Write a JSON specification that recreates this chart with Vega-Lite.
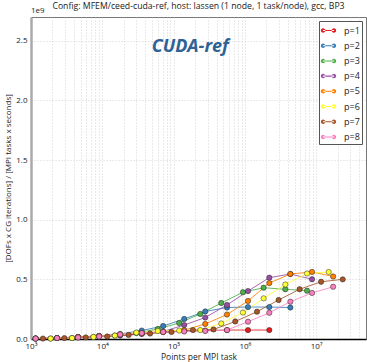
{
  "$schema": "https://vega.github.io/schema/vega-lite/v6.json",
  "width": 335,
  "height": 322,
  "autosize": {"type": "none"},
  "padding": {"left": 31, "top": 17, "right": 1, "bottom": 23},
  "config": {
    "font": "Open Sans",
    "view": {"stroke": "#777", "strokeWidth": 1}
  },
  "title": {
    "text": "Config: MFEM/ceed-cuda-ref, host: lassen (1 node, 1 task/node), gcc, BP3",
    "fontSize": 8.7,
    "fontWeight": "normal",
    "font": "Open Sans",
    "color": "#222",
    "offset": 3,
    "dy": 7,
    "anchor": "middle"
  },
  "resolve": {"legend": {"color": "independent"}},
  "datasets": {
    "perf": [
      {"p": "p=1", "x": 1161, "y": 4e6}, {"p": "p=1", "x": 2318, "y": 8e6}, {"p": "p=1", "x": 4571, "y": 17e6}, {"p": "p=1", "x": 9016, "y": 25e6}, {"p": "p=1", "x": 17783, "y": 34e6}, {"p": "p=1", "x": 35750, "y": 46e6}, {"p": "p=1", "x": 71450, "y": 59e6}, {"p": "p=1", "x": 140900, "y": 67e6}, {"p": "p=1", "x": 277900, "y": 71e6}, {"p": "p=1", "x": 560700, "y": 75e6}, {"p": "p=1", "x": 1106000, "y": 75e6}, {"p": "p=1", "x": 2202000, "y": 75e6},
      {"p": "p=2", "x": 1161, "y": 4e6}, {"p": "p=2", "x": 2318, "y": 8e6}, {"p": "p=2", "x": 4571, "y": 17e6}, {"p": "p=2", "x": 9016, "y": 25e6}, {"p": "p=2", "x": 17783, "y": 42e6}, {"p": "p=2", "x": 35750, "y": 71e6}, {"p": "p=2", "x": 71450, "y": 109e6}, {"p": "p=2", "x": 140900, "y": 168e6}, {"p": "p=2", "x": 277900, "y": 231e6}, {"p": "p=2", "x": 560700, "y": 264e6}, {"p": "p=2", "x": 1106000, "y": 268e6}, {"p": "p=2", "x": 2202000, "y": 268e6}, {"p": "p=2", "x": 4345000, "y": 264e6},
      {"p": "p=3", "x": 1885, "y": 4e6}, {"p": "p=3", "x": 3765, "y": 8e6}, {"p": "p=3", "x": 7520, "y": 17e6}, {"p": "p=3", "x": 15030, "y": 29e6}, {"p": "p=3", "x": 30050, "y": 50e6}, {"p": "p=3", "x": 59970, "y": 84e6}, {"p": "p=3", "x": 119900, "y": 134e6}, {"p": "p=3", "x": 236500, "y": 210e6}, {"p": "p=3", "x": 466400, "y": 302e6}, {"p": "p=3", "x": 940000, "y": 392e6}, {"p": "p=3", "x": 1832000, "y": 430e6}, {"p": "p=3", "x": 3690000, "y": 417e6}, {"p": "p=3", "x": 7450000, "y": 405e6},
      {"p": "p=4", "x": 1161, "y": 4e6}, {"p": "p=4", "x": 2318, "y": 8e6}, {"p": "p=4", "x": 4571, "y": 13e6}, {"p": "p=4", "x": 9016, "y": 21e6}, {"p": "p=4", "x": 17783, "y": 29e6}, {"p": "p=4", "x": 35750, "y": 42e6}, {"p": "p=4", "x": 71450, "y": 63e6}, {"p": "p=4", "x": 140900, "y": 117e6}, {"p": "p=4", "x": 277900, "y": 180e6}, {"p": "p=4", "x": 560700, "y": 285e6}, {"p": "p=4", "x": 1106000, "y": 402e6}, {"p": "p=4", "x": 2202000, "y": 514e6}, {"p": "p=4", "x": 4345000, "y": 545e6}, {"p": "p=4", "x": 8750000, "y": 501e6},
      {"p": "p=5", "x": 1161, "y": 4e6}, {"p": "p=5", "x": 2318, "y": 8e6}, {"p": "p=5", "x": 4571, "y": 17e6}, {"p": "p=5", "x": 9016, "y": 25e6}, {"p": "p=5", "x": 17783, "y": 38e6}, {"p": "p=5", "x": 35750, "y": 50e6}, {"p": "p=5", "x": 71450, "y": 59e6}, {"p": "p=5", "x": 140900, "y": 75e6}, {"p": "p=5", "x": 277900, "y": 126e6}, {"p": "p=5", "x": 560700, "y": 205e6}, {"p": "p=5", "x": 1106000, "y": 319e6}, {"p": "p=5", "x": 2202000, "y": 469e6}, {"p": "p=5", "x": 4345000, "y": 545e6}, {"p": "p=5", "x": 8750000, "y": 562e6}, {"p": "p=5", "x": 17300000, "y": 524e6},
      {"p": "p=6", "x": 1885, "y": 4e6}, {"p": "p=6", "x": 3765, "y": 8e6}, {"p": "p=6", "x": 7520, "y": 17e6}, {"p": "p=6", "x": 15030, "y": 29e6}, {"p": "p=6", "x": 30050, "y": 54e6}, {"p": "p=6", "x": 59970, "y": 67e6}, {"p": "p=6", "x": 119900, "y": 71e6}, {"p": "p=6", "x": 236500, "y": 75e6}, {"p": "p=6", "x": 466400, "y": 130e6}, {"p": "p=6", "x": 940000, "y": 222e6}, {"p": "p=6", "x": 1832000, "y": 341e6}, {"p": "p=6", "x": 3690000, "y": 457e6}, {"p": "p=6", "x": 7450000, "y": 549e6}, {"p": "p=6", "x": 14990000, "y": 562e6},
      {"p": "p=7", "x": 1469, "y": 4e6}, {"p": "p=7", "x": 2937, "y": 8e6}, {"p": "p=7", "x": 5864, "y": 13e6}, {"p": "p=7", "x": 11720, "y": 21e6}, {"p": "p=7", "x": 23400, "y": 34e6}, {"p": "p=7", "x": 46770, "y": 46e6}, {"p": "p=7", "x": 93370, "y": 59e6}, {"p": "p=7", "x": 186600, "y": 75e6}, {"p": "p=7", "x": 363100, "y": 80e6}, {"p": "p=7", "x": 732800, "y": 147e6}, {"p": "p=7", "x": 1479000, "y": 229e6}, {"p": "p=7", "x": 2973000, "y": 327e6}, {"p": "p=7", "x": 5860000, "y": 417e6}, {"p": "p=7", "x": 11720000, "y": 480e6}, {"p": "p=7", "x": 23570000, "y": 500e6},
      {"p": "p=8", "x": 1161, "y": 4e6}, {"p": "p=8", "x": 2318, "y": 8e6}, {"p": "p=8", "x": 4571, "y": 13e6}, {"p": "p=8", "x": 9016, "y": 21e6}, {"p": "p=8", "x": 17783, "y": 38e6}, {"p": "p=8", "x": 35750, "y": 50e6}, {"p": "p=8", "x": 71450, "y": 59e6}, {"p": "p=8", "x": 140900, "y": 63e6}, {"p": "p=8", "x": 277900, "y": 67e6}, {"p": "p=8", "x": 560700, "y": 75e6}, {"p": "p=8", "x": 1106000, "y": 145e6}, {"p": "p=8", "x": 2202000, "y": 220e6}, {"p": "p=8", "x": 4345000, "y": 313e6}, {"p": "p=8", "x": 8750000, "y": 386e6}, {"p": "p=8", "x": 17300000, "y": 438e6}
    ],
    "notes": [
      {"label": "CUDA-ref", "offset": "1e9"}
    ]
  },
  "layer": [
    {
      "data": {"name": "perf"},
      "mark": {"type": "line", "strokeWidth": 1, "opacity": 0.85},
      "encoding": {
        "x": {
          "field": "x",
          "type": "quantitative",
          "scale": {"type": "log", "domain": [1000, 50000000], "nice": false},
          "axis": {
            "title": "Points per MPI task",
            "titleFontSize": 8.5,
            "titleFontWeight": "normal",
            "titleColor": "#222",
            "titlePadding": 2,
            "labelFontSize": 8,
            "labelColor": "#222",
            "labelPadding": 3,
            "labelFlush": false,
            "labelOverlap": false,
            "values": [1000, 2000, 3000, 4000, 5000, 6000, 7000, 8000, 9000, 10000, 20000, 30000, 40000, 50000, 60000, 70000, 80000, 90000, 100000, 200000, 300000, 400000, 500000, 600000, 700000, 800000, 900000, 1000000, 2000000, 3000000, 4000000, 5000000, 6000000, 7000000, 8000000, 9000000, 10000000, 20000000, 30000000, 40000000],
            "labelExpr": "datum.value == 1000 ? '10³' : datum.value == 10000 ? '10⁴' : datum.value == 100000 ? '10⁵' : datum.value == 1000000 ? '10⁶' : datum.value == 10000000 ? '10⁷' : ''",
            "grid": true,
            "gridDash": [1, 2],
            "gridColor": "#c4c4c4",
            "gridWidth": 0.7,
            "ticks": false,
            "domainColor": "#000",
            "domainWidth": 1.5
          }
        },
        "y": {
          "field": "y",
          "type": "quantitative",
          "scale": {"domain": [0, 2700000000], "nice": false},
          "axis": {
            "title": "[DOFs x CG iterations] / [MPI tasks x seconds]",
            "titleFontSize": 8,
            "titleFontWeight": "normal",
            "titleColor": "#222",
            "titlePadding": 3,
            "labelFontSize": 8,
            "labelColor": "#222",
            "labelPadding": 4,
            "values": [0, 500000000, 1000000000, 1500000000, 2000000000, 2500000000],
            "labelExpr": "format(datum.value / 1e9, '.1f')",
            "grid": true,
            "gridDash": [1, 2],
            "gridColor": "#c4c4c4",
            "gridWidth": 0.7,
            "ticks": false,
            "domainColor": "#aaa",
            "domainWidth": 2.5
          }
        },
        "color": {"field": "p", "type": "nominal", "legend": null,
          "scale": {"domain": ["p=1", "p=2", "p=3", "p=4", "p=5", "p=6", "p=7", "p=8"],
                    "range": ["#e41a1c", "#377eb8", "#4daf4a", "#984ea3", "#ff7f00", "#ffff33", "#a65628", "#f781bf"]}}
      }
    },
    {
      "data": {"name": "perf"},
      "mark": {"type": "point", "filled": true, "size": 28, "stroke": "#222", "strokeWidth": 0.5, "opacity": 1},
      "encoding": {
        "x": {"field": "x", "type": "quantitative"},
        "y": {"field": "y", "type": "quantitative"},
        "color": {
          "field": "p",
          "type": "nominal",
          "legend": {
            "title": null,
            "orient": "top-right",
            "offset": 4,
            "padding": 2,
            "strokeColor": "#555",
            "fillColor": "white",
            "cornerRadius": 0,
            "labelFontSize": 9,
            "labelColor": "#222",
            "labelOffset": 8,
            "rowPadding": 2.2,
            "symbolSize": 225,
            "symbolStrokeWidth": 0,
            "symbolOpacity": 1,
            "symbolType": "M-0.75,-0.07H0.75V0.07H-0.75Z M-1.02,0A0.3,0.3,0,1,0,-0.42,0A0.3,0.3,0,1,0,-1.02,0Z M0.42,0A0.3,0.3,0,1,0,1.02,0A0.3,0.3,0,1,0,0.42,0Z"
          }
        }
      }
    },
    {
      "data": {"name": "notes"},
      "mark": {"type": "text", "font": "Open Sans", "fontSize": 18, "fontWeight": "bold", "fontStyle": "italic", "fill": "#2e6194", "align": "center", "baseline": "middle"},
      "encoding": {
        "x": {"datum": 171000, "type": "quantitative"},
        "y": {"datum": 2450000000, "type": "quantitative"},
        "text": {"field": "label"}
      }
    },
    {
      "data": {"name": "notes"},
      "mark": {"type": "text", "font": "Open Sans", "fontSize": 8, "fill": "#222", "align": "left", "baseline": "bottom", "dy": -2},
      "encoding": {
        "x": {"datum": 1000, "type": "quantitative"},
        "y": {"datum": 2700000000, "type": "quantitative"},
        "text": {"field": "offset"}
      }
    }
  ]
}
